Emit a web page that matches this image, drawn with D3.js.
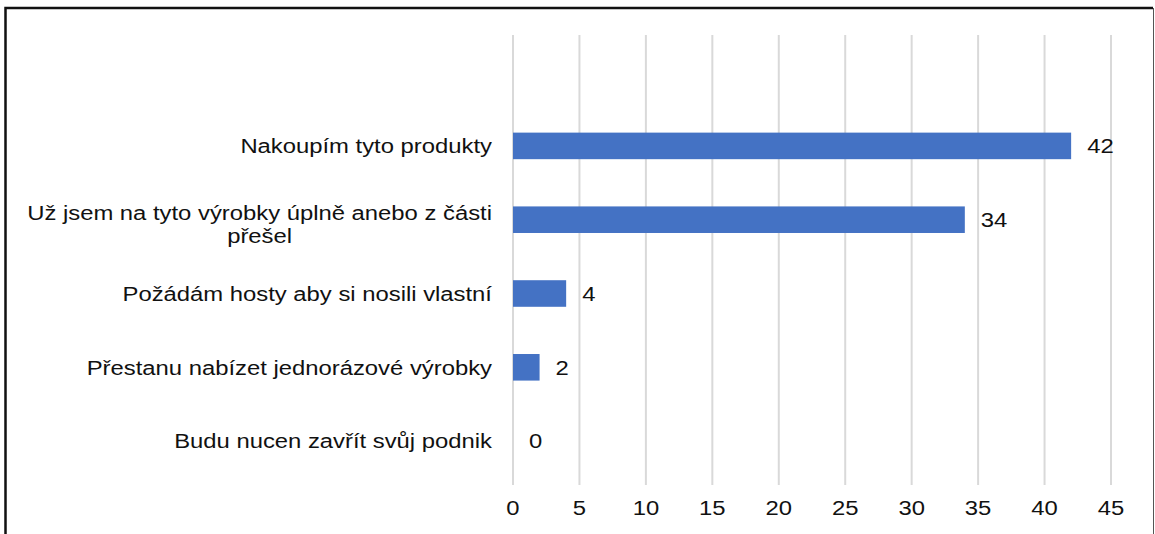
<!DOCTYPE html>
<html>
<head>
<meta charset="utf-8">
<script src="https://cdn.jsdelivr.net/npm/d3@7"></script>
<style>
  body { margin: 0; background: #fff; }
  svg { display: block; font-family: "Liberation Sans", Arial, sans-serif; }
</style>
</head>
<body>
<svg id="chart" width="1155" height="534"></svg>
<script>
const categories = [
    "Nakoupím tyto produkty",
    "Už jsem na tyto výrobky úplně anebo z části|přešel",
    "Požádám hosty aby si nosili vlastní",
    "Přestanu nabízet jednorázové výrobky",
    "Budu nucen zavřít svůj podnik"
];
const values = [42, 34, 4, 2, 0];
const ticks = [0, 5, 10, 15, 20, 25, 30, 35, 40, 45];

const svg = d3.select("#chart"),
    width = +svg.attr("width"),
    height = +svg.attr("height");

const fontSize = 21;
const stretch = 1.135; // reference text is a bit wider than Liberation Sans
const place = (px, py) => `translate(${px},${py}) scale(${stretch},1)`;

// frame (left, top, right)
svg.append("path")
    .attr("d", "M5.5,534 V8 H1153")
    .attr("fill", "none")
    .attr("stroke", "#111")
    .attr("stroke-width", 2.5);
svg.append("line")
    .attr("x1", 1153.5).attr("x2", 1153.5).attr("y1", 8).attr("y2", 534)
    .attr("stroke", "#555").attr("stroke-width", 1);

const x = d3.scaleLinear().domain([0, 45]).range([513, 1111]);
const y = d3.scaleBand().domain(categories).range([109, 478]).paddingInner(0.64).paddingOuter(0.32);

// gridlines
svg.append("g")
    .selectAll("line")
    .data(ticks)
    .enter().append("line")
    .attr("x1", d => x(d)).attr("x2", d => x(d))
    .attr("y1", 35).attr("y2", 485)
    .attr("stroke", "#d9d9d9")
    .attr("stroke-width", 2);

// tick labels
svg.append("g")
    .selectAll("text")
    .data(ticks)
    .enter().append("text")
    .attr("transform", d => place(x(d), 508))
    .attr("dy", "0.35em")
    .attr("text-anchor", "middle")
    .attr("font-size", fontSize)
    .attr("fill", "#111")
    .text(d => d);

// bars
svg.append("g")
    .selectAll("rect")
    .data(values)
    .enter().append("rect")
    .attr("x", x(0))
    .attr("y", (d, i) => y(categories[i]))
    .attr("width", d => x(d) - x(0))
    .attr("height", y.bandwidth())
    .attr("fill", "#4472c4");

// value labels
svg.append("g")
    .selectAll("text")
    .data(values)
    .enter().append("text")
    .attr("transform", (d, i) => place(x(d) + 16, y(categories[i]) + y.bandwidth() / 2))
    .attr("dy", "0.35em")
    .attr("font-size", fontSize)
    .attr("fill", "#111")
    .text(d => d);

// category labels
const labels = svg.append("g")
    .selectAll("text")
    .data(categories)
    .enter().append("text")
    .attr("font-size", fontSize)
    .attr("fill", "#111")
    .attr("text-anchor", "end")
    .attr("transform", d => place(492, y(d) + y.bandwidth() / 2))
    .attr("dy", "0.35em");

labels.each(function(d) {
    const lines = d.split("|");
    const t = d3.select(this);
    if (lines.length === 1) {
        t.text(d);
        return;
    }
    // wrapped label: lines centred on each other, block right-aligned
    t.attr("text-anchor", "middle").attr("dy", null);
    const first = t.append("tspan").text(lines[0]);
    const w = first.node().getComputedTextLength();
    const cx = -w / 2;
    first.attr("x", cx).attr("y", 0);
    t.append("tspan").text(lines[1]).attr("x", cx).attr("y", 23);
});
</script>
</body>
</html>
